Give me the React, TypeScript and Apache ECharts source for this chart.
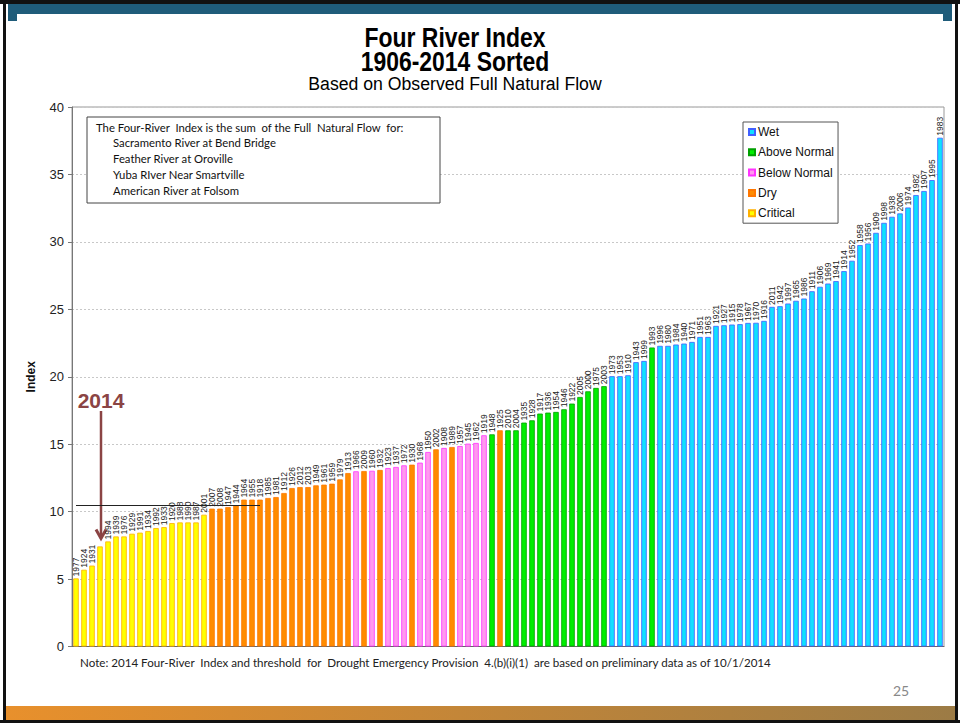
import React, { useEffect, useRef } from "react";
import * as echarts from "echarts";

const years = [
  "1977","1924","1931","2014","1994","1939","1976","1929","1991","1934","1992","1933","1920","1988","1990","1987","2001",
  "2007","2008","1947","1944","1964","1955","1918","1985","1981","1912","1926","2012","2013","1949","1961","1959","1979","1913",
  "1966","2009","1960","1932","1923","1937","1972","1930","1968","1950","2002","1908","1989","1957","1945","1962","1919",
  "1948","1925","2010","2004","1935","1928","1917","1936","1954","1946","1922","2005","2000","1975","2003",
  "1973","1953","1910","1943","1999","1993","1996","1980","1984","1940","1971","1951","1963","1921","1927","1915","1978",
  "1967","1970","1916","2011","1942","1997","1965","1986","1911","1906","1969","1941","1914","1952","1958","1956","1909",
  "1998","1938","2006","1974","1982","1907","1995","1983"
];

const values = [
  5.05,5.69,6.0,7.42,7.79,8.16,8.16,8.36,8.44,8.56,8.78,8.85,9.15,9.2,9.2,9.2,9.77,
  10.22,10.22,10.34,10.46,10.89,10.89,10.89,11.01,11.08,11.38,11.75,11.82,11.82,11.95,12.0,12.07,12.39,12.86,
  12.99,13.01,13.03,13.09,13.23,13.31,13.43,13.48,13.63,14.42,14.62,14.72,14.79,14.86,15.04,15.09,15.66,
  15.73,16.03,16.03,16.03,16.6,16.77,17.27,17.34,17.39,17.59,18.01,18.5,18.92,19.17,19.3,
  20.04,20.04,20.11,21.08,21.17,22.17,22.29,22.29,22.39,22.46,22.58,22.95,22.95,23.77,23.82,23.87,23.9,
  23.99,24.0,24.14,25.18,25.23,25.43,25.63,25.8,26.34,26.67,26.91,27.09,27.83,28.6,29.76,29.88,30.67,
  31.41,31.86,32.11,32.55,33.47,33.77,34.58,37.72
];

// C = Critical, D = Dry, BN = Below Normal, AN = Above Normal, W = Wet
const yearTypes = [
  "C","C","C","C","C","C","C","C","C","C","C","C","C","C","C","C","C",
  "D","D","D","D","D","D","D","D","D","D","D","D","D","D","D","D","D","D",
  "BN","D","BN","D","BN","BN","BN","D","BN","BN","D","BN","D","BN","BN","BN","BN",
  "AN","D","AN","AN","AN","AN","AN","AN","AN","AN","AN","AN","AN","AN","AN",
  "W","W","W","W","W","AN","W","W","W","W","W","W","W","W","W","W","W",
  "W","W","W","W","W","W","W","W","W","W","W","W","W","W","W","W","W",
  "W","W","W","W","W","W","W","W"
];

const classOrder = ["W", "AN", "BN", "D", "C"];
const classNames = ["Wet", "Above Normal", "Below Normal", "Dry", "Critical"];
const yTicks = [0, 5, 10, 15, 20, 25, 30, 35, 40];
const threshold = 10.5;
const thresholdFrom = "1977";
const thresholdTo = "1918";
const highlightYear = "2014";

const fills = ["#10E0FF", "#00EE00", "#FF99EE", "#FF8C00", "#FFFF00"];
const borders = ["#4060FF", "#00A000", "#FF33FF", "#FF7700", "#FFB000"];

const noteLines = [
  "The Four-River  Index is the sum  of the Full  Natural Flow  for:",
  "Sacramento River at Bend Bridge",
  "Feather River at Oroville",
  "Yuba RIver Near Smartville",
  "American River at Folsom",
];

const ARIAL = "'Liberation Sans', Arial, sans-serif";
const CAL = "Lato, 'Open Sans', sans-serif";

export default function App() {
  const ref = useRef<HTMLDivElement>(null);
  useEffect(() => {
    if (!ref.current) return;
    const chart = echarts.init(ref.current, null, { renderer: "svg" });
    const series: any[] = classOrder.map((c, k) => ({
      name: classNames[k],
      type: "bar",
      barWidth: 5.5,
      barGap: "-100%",
      data: values.map((v, i) => (yearTypes[i] === c ? v : "-")),
      itemStyle: { color: fills[k], borderColor: borders[k], borderWidth: 0.8 },
      label: {
        show: true,
        position: "top",
        rotate: 90,
        align: "left",
        verticalAlign: "middle",
        distance: 2,
        fontSize: 8.5,
        fontFamily: ARIAL,
        color: "#222",
        formatter: (p: any) => (years[p.dataIndex] === highlightYear ? "" : years[p.dataIndex]),
      },
      emphasis: { disabled: true },
    }));
    series[4].markLine = {
      silent: true,
      symbol: ["none", "none"],
      label: { show: false },
      lineStyle: { color: "#222", width: 1, type: "solid" },
      data: [[{ coord: [thresholdFrom, threshold] }, { coord: [thresholdTo, threshold] }]],
    };

    chart.setOption({
      animation: false,
      backgroundColor: "#fff",
      legend: {
        orient: "vertical",
        left: 743,
        top: 122,
        data: classNames,
        icon: "rect",
        itemWidth: 6,
        itemHeight: 6,
        itemGap: 6.3,
        padding: [3, 4, 3, 5],
        borderColor: "#555",
        borderWidth: 1,
        backgroundColor: "#fff",
        selectedMode: false,
        textStyle: { fontFamily: ARIAL, fontSize: 12, color: "#111", lineHeight: 14, padding: [0, 0, 0, -2] },
      },
      grid: { left: 72, right: 16, top: 107, bottom: 76.5, show: true, borderColor: "#999", borderWidth: 1 },
      xAxis: {
        type: "category",
        data: years,
        axisLine: { lineStyle: { color: "#666" } },
        axisTick: { show: false },
        axisLabel: { show: false },
      },
      yAxis: {
        type: "value",
        min: yTicks[0],
        max: yTicks[yTicks.length - 1],
        interval: 5,
        name: "Index",
        nameLocation: "middle",
        nameGap: 35,
        nameTextStyle: { fontFamily: ARIAL, fontWeight: "bold", fontSize: 12, color: "#111" },
        axisLine: { show: true, lineStyle: { color: "#777" } },
        axisTick: { show: true, length: 4, lineStyle: { color: "#777" } },
        axisLabel: { fontFamily: ARIAL, fontSize: 13, color: "#222", margin: 8 },
        splitLine: { lineStyle: { color: "#c8c8c8", type: [2, 2] } },
      },
      series,
    });

    const idx = years.indexOf(highlightYear);
    const [bx, by] = chart.convertToPixel({ xAxisIndex: 0, yAxisIndex: 0 }, [years[idx], values[idx]]) as number[];
    const arrowColor = "#8B4444";

    chart.setOption({
      graphic: [
        // slide frame
        { type: "rect", shape: { x: 0, y: 0, width: 960, height: 4 }, style: { fill: "#111" }, silent: true },
        { type: "rect", shape: { x: 8, y: 4, width: 944, height: 10 }, style: { fill: "#1F5C7A" }, silent: true },
        { type: "rect", shape: { x: 8, y: 14, width: 9, height: 7 }, style: { fill: "#1F5C7A" }, silent: true },
        { type: "rect", shape: { x: 943, y: 14, width: 9, height: 7 }, style: { fill: "#1F5C7A" }, silent: true },
        { type: "rect", shape: { x: 3, y: 0, width: 3, height: 723 }, style: { fill: "#111" }, silent: true },
        { type: "rect", shape: { x: 955, y: 0, width: 3, height: 723 }, style: { fill: "#111" }, silent: true },
        {
          type: "rect",
          shape: { x: 6, y: 706, width: 949, height: 14 },
          style: {
            fill: new echarts.graphic.LinearGradient(0, 0, 1, 0, [
              { offset: 0, color: "#E8902C" },
              { offset: 1, color: "#9C7B45" },
            ]),
          },
          silent: true,
        },
        { type: "rect", shape: { x: 0, y: 720, width: 960, height: 3 }, style: { fill: "#111" }, silent: true },
        // titles
        {
          type: "text",
          x: 455,
          y: 37,
          scaleX: 0.85,
          style: { text: "Four River Index", fill: "#000", font: `bold 27px ${ARIAL}`, textAlign: "center", textVerticalAlign: "middle" },
          silent: true,
        },
        {
          type: "text",
          x: 455,
          y: 61,
          scaleX: 0.85,
          style: { text: "1906-2014 Sorted", fill: "#000", font: `bold 27px ${ARIAL}`, textAlign: "center", textVerticalAlign: "middle" },
          silent: true,
        },
        {
          type: "text",
          x: 455,
          y: 83,
          scaleX: 0.93,
          style: { text: "Based on Observed Full Natural Flow", fill: "#000", font: `19px ${ARIAL}`, textAlign: "center", textVerticalAlign: "middle" },
          silent: true,
        },
        // info box
        { type: "rect", shape: { x: 87, y: 117, width: 353, height: 86 }, style: { fill: "#fff", stroke: "#444", lineWidth: 1 }, silent: true },
        ...noteLines.map((t, i) => ({
          type: "text",
          x: i === 0 ? 96 : 113,
          y: 127 + i * 15.8,
          style: { text: t, fill: "#111", font: `11.3px ${CAL}`, textVerticalAlign: "middle" },
          silent: true,
        })),
        // 2014 annotation
        {
          type: "text",
          x: bx + 1,
          y: 400,
          style: { text: highlightYear, fill: arrowColor, font: `bold 21px ${ARIAL}`, textAlign: "center", textVerticalAlign: "middle" },
          silent: true,
        },
        { type: "line", shape: { x1: bx + 1, y1: 411, x2: bx + 1, y2: by - 8 }, style: { stroke: arrowColor, lineWidth: 2.5 }, silent: true },
        {
          type: "polyline",
          shape: { points: [[bx - 4, by - 17], [bx + 1, by - 8], [bx + 6, by - 17]] },
          style: { stroke: arrowColor, lineWidth: 3, fill: "none" },
          silent: true,
        },
        // footnote
        {
          type: "text",
          x: 80,
          y: 662,
          style: {
            text: "Note: 2014 Four-River  Index and threshold  for  Drought Emergency Provision  4.(b)(i)(1)  are based on preliminary data as of 10/1/2014",
            fill: "#222",
            font: `11.6px ${CAL}`,
            textVerticalAlign: "middle",
          },
          silent: true,
        },
        { type: "text", x: 893, y: 690, style: { text: "25", fill: "#888", font: `14px ${CAL}`, textVerticalAlign: "middle" }, silent: true },
      ],
    });

    return () => chart.dispose();
  }, []);

  return <div ref={ref} style={{ position: "absolute", left: 0, top: 0, width: 960, height: 723 }} />;
}
